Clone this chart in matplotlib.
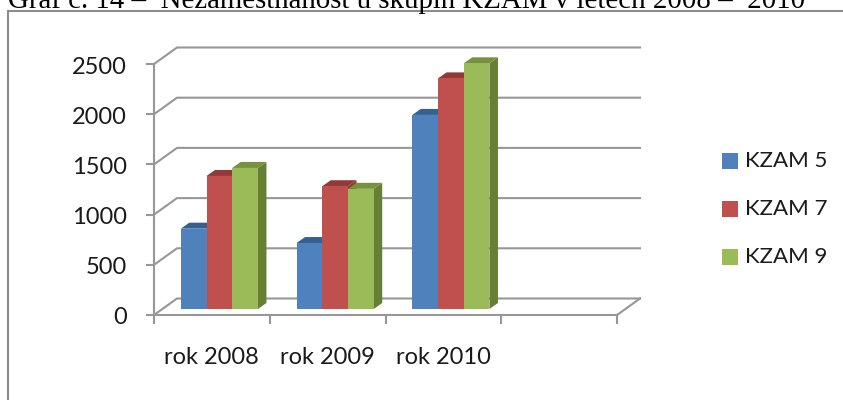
import numpy as np
import matplotlib
matplotlib.use('Agg')
import matplotlib.pyplot as plt
from matplotlib.patches import Polygon

categories = ['rok 2008', 'rok 2009', 'rok 2010']
series = ['KZAM 5', 'KZAM 7', 'KZAM 9']
kzam5 = [800, 657, 1933]
kzam7 = [1325, 1223, 2297]
kzam9 = [1405, 1197, 2447]
yticks = [0, 500, 1000, 1500, 2000, 2500]
n_slots = 4

front = ['#4f81bd', '#c0504d', '#9bbb59']
top = ['#35608f', '#933a38', '#76923c']
side = ['#385d8a', '#8c3836', '#667f35']
grid = '#979797'

W, H = 843, 400
fig = plt.figure(figsize = (W/100, H/100), dpi = 100)

# axes box is the front of the 3d chart, in figure pixels
left, right, bottom, topy = 154, 617, 315, 64
ax = fig.add_axes([left/W, 1-bottom/H, (right-left)/W, (bottom-topy)/H])
ax.set_xlim(0, n_slots)
ax.set_ylim(0, 2500)
ax.axis('off')

px = n_slots / (right-left)   # one pixel in x data units
py = 2500 / (bottom-topy)     # one pixel in y data units

# back wall and gridlines
wall_x, wall_y = 23*px, 16.5*py
for v in yticks:
    ax.plot([0, wall_x, n_slots+wall_x], [v, v+wall_y, v+wall_y],
        color = grid, lw = 1.5, clip_on = False, zorder = 1)
    ax.plot([-7*px, 0], [v, v], color = grid, lw = 1.5, clip_on = False, zorder = 1)
ax.plot([0, 0], [0, 2500], color = grid, lw = 1.5, clip_on = False, zorder = 1)
ax.plot([0, n_slots], [0, 0], color = grid, lw = 1.5, clip_on = False, zorder = 1)
ax.plot([n_slots, n_slots+wall_x], [0, wall_y], color = grid, lw = 1.5, clip_on = False, zorder = 1)
for i in range(n_slots+1):
    ax.plot([i, i], [0, -8*py], color = grid, lw = 1.5, clip_on = False, zorder = 1)

# bars
gap_x, gap_y = 7.5*px, 6*py      # floor offset of the front face
dep_x, dep_y = 8.5*px, 6*py      # bar depth
bar_w = 1/4.5
for s, vals in enumerate([kzam5, kzam7, kzam9]):
    for c, v in enumerate(vals):
        x0 = c + (1-3*bar_w)/2 + s*bar_w + gap_x
        x1 = x0 + bar_w
        y0 = gap_y
        y1 = gap_y + v
        ax.add_patch(Polygon([(x1, y0), (x1+dep_x, y0+dep_y), (x1+dep_x, y1+dep_y), (x1, y1)],
            fc = side[s], ec = 'none', clip_on = False, zorder = 2+s))
        ax.add_patch(Polygon([(x0, y1), (x1, y1), (x1+dep_x, y1+dep_y), (x0+dep_x, y1+dep_y)],
            fc = top[s], ec = 'none', clip_on = False, zorder = 2+s))
        ax.bar(x0, v, bar_w, bottom = y0, align = 'edge', color = front[s],
            clip_on = False, zorder = 2+s+0.5)

# tick labels
for v in yticks:
    ax.text(-27*px, v-3*py, str(v), ha = 'right', va = 'center', family = 'Lato',
        fontsize = 17, color = '#1a1a1a', clip_on = False)
for c, name in enumerate(categories):
    ax.text(c+0.5, -43*py, name, ha = 'center', va = 'center', family = 'Lato',
        fontsize = 17, color = '#1a1a1a', clip_on = False)

# legend
for s, name in enumerate(series):
    ypix = 161 + s*48
    fig.patches.append(plt.Rectangle((722/W, 1-(ypix+8)/H), 16/W, 16/H,
        transform = fig.transFigure, fc = front[s], ec = 'none'))
    fig.text(745/W, 1-ypix/H, name, ha = 'left', va = 'center', family = 'Lato',
        fontsize = 16, color = '#1a1a1a')

# chart frame and the cut off caption above it
fig.add_artist(plt.Line2D([8/W, 8/W], [0, 1-11/H], color = '#8c8c8c', lw = 1.5))
fig.add_artist(plt.Line2D([8/W, 1], [1-11/H, 1-11/H], color = '#8c8c8c', lw = 1.5))
fig.text(8/W, 1-7.5/H, 'Graf č. 14 –  Nezaměstnanost u skupin KZAM v letech 2008 –  2010',
    ha = 'left', va = 'baseline', family = 'Liberation Serif', fontsize = 20.8, color = 'black')

fig.savefig('out.png', dpi = 100)
